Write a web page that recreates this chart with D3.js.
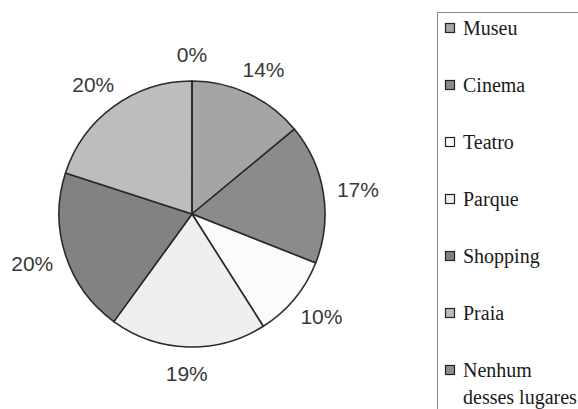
<!DOCTYPE html>
<html>
<head>
<meta charset="utf-8">
<script src="https://cdn.jsdelivr.net/npm/d3@7"></script>
<style>
  body { margin: 0; background: #fff; }
  .leg { font-family: "Liberation Serif", serif; font-size: 20px; fill: #1a1a1a; }
  .pct { font-family: "Liberation Sans", Arial, sans-serif; font-size: 21px; fill: #383838; }
</style>
</head>
<body>
<svg width="578" height="409"></svg>
<script>
// data
var categories = ["Museu", "Cinema", "Teatro", "Parque", "Shopping", "Praia", "Nenhum desses lugares"];
var values = [14, 17, 10, 19, 20, 20, 0];
var labels = ["14%", "17%", "10%", "19%", "20%", "20%", "0%"];
var legendLines = [["Museu"], ["Cinema"], ["Teatro"], ["Parque"], ["Shopping"], ["Praia"], ["Nenhum", "desses lugares"]];
var colors = ["#a5a5a5", "#8b8b8b", "#fbfbfb", "#efefef", "#828282", "#bdbdbd", "#8e8e8e"];

var svg = d3.select("svg"),
  width = +svg.attr("width"),
  height = +svg.attr("height");

var cx = 192, cy = 214, radius = 133;

var color = d3.scaleOrdinal().domain(categories).range(colors);

var pie = d3.pie()
  .sort(null)
  .value(function(d, i) { return values[i]; });

var arc = d3.arc().innerRadius(0).outerRadius(radius);

var arcs = pie(categories);

var g = svg.append("g")
  .attr("transform", "translate(" + cx + "," + cy + ")");

g.selectAll("path")
  .data(arcs)
  .enter()
  .append("path")
    .attr("d", arc)
    .attr("fill", function(d) { return color(d.data); })
    .attr("stroke", "#2a2a2a")
    .attr("stroke-width", 1.6)
    .attr("stroke-linejoin", "round");

// percent labels outside the pie
g.selectAll("text.pct")
  .data(arcs)
  .enter()
  .append("text")
    .attr("class", "pct")
    .attr("x", function(d) { var a = (d.startAngle + d.endAngle) / 2; return 168 * Math.sin(a); })
    .attr("y", function(d) { var a = (d.startAngle + d.endAngle) / 2; return -160 * Math.cos(a); })
    .attr("dy", "0.36em")
    .attr("text-anchor", "middle")
    .text(function(d, i) { return labels[i]; });

// legend
var legend = svg.append("g");
legend.append("rect")
  .attr("x", 437.5)
  .attr("y", 12.5)
  .attr("width", 150)
  .attr("height", 420)
  .attr("fill", "none")
  .attr("stroke", "#8a8a8a")
  .attr("stroke-width", 1);

var ly = d3.scalePoint()
  .domain(categories)
  .range([28, 370]);

var item = legend.selectAll("g.item")
  .data(categories)
  .enter()
  .append("g")
    .attr("class", "item")
    .attr("transform", function(d) { return "translate(445," + ly(d) + ")"; });

item.append("rect")
  .attr("x", 0.5)
  .attr("y", -4.5)
  .attr("width", 9)
  .attr("height", 9)
  .attr("fill", function(d) { return color(d); })
  .attr("stroke", "#222")
  .attr("stroke-width", 1.2);

item.append("text")
  .attr("class", "leg")
  .attr("x", 18)
  .attr("y", 0)
  .each(function(d, i) {
    var t = d3.select(this);
    legendLines[i].forEach(function(line, j) {
      t.append("tspan")
        .attr("x", 18)
        .attr("dy", j === 0 ? "0.33em" : "1.35em")
        .text(line);
    });
  });
</script>
</body>
</html>
